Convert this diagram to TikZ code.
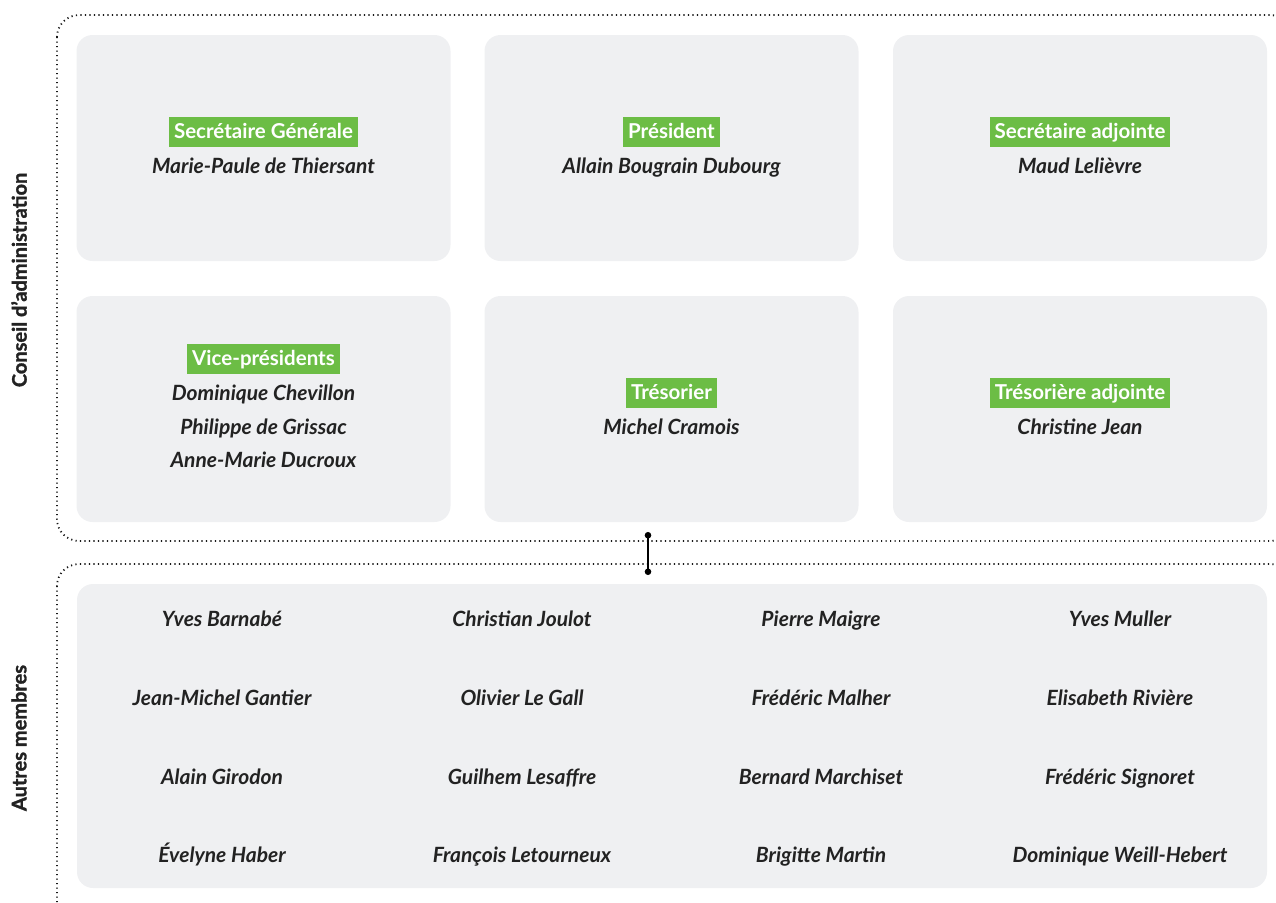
\documentclass[tikz,border=0pt]{standalone}
\usepackage{fontspec}
\setmainfont{Lato}
\newfontfamily\sidefont{Lato}[BoldFeatures={FakeBold=1.5}]
\usetikzlibrary{arrows.meta}
\definecolor{boxgray}{HTML}{EFF0F2}
\definecolor{lgreen}{HTML}{6CBD45}
\definecolor{txt}{HTML}{222222}
\begin{document}
\begin{tikzpicture}[x=1pt,y=-1pt,
 card/.style={fill=boxgray, rounded corners=16pt, draw=none, inner sep=0pt},
 frame/.style={draw=black!90, line width=1.8pt, dash pattern=on 1.2pt off 3.3pt, rounded corners=22pt},
 role/.style={fill=lgreen, text=white, font=\bfseries\fontsize{20.5}{24}\selectfont, inner xsep=5pt, inner ysep=6pt, text height=15pt, text depth=3pt},
 person/.style={text=txt, font=\bfseries\itshape\fontsize{21}{24}\selectfont, inner sep=0pt, text height=17pt, text depth=3pt},
 side/.style={text=txt, font=\sidefont\bfseries\fontsize{20}{24}\selectfont, rotate=90, inner sep=0pt},
 link/.style={draw=black, line width=1.1pt, {Circle[length=6.5pt]}-{Circle[length=6.5pt]}}]
\useasboundingbox (0,0) rectangle (1276,902);
\begin{scope}
\clip (0,0) rectangle (1276,902);
\draw[frame] (57,15) rectangle (1292,541);
\draw[frame] (57,564) rectangle (1292,930);
\end{scope}
% cards
\node[card, minimum width=374pt, minimum height=226pt] (c11) at (263.5,148) {};
\node[card, minimum width=374pt, minimum height=226pt] (c12) at (671.5,148) {};
\node[card, minimum width=374pt, minimum height=226pt] (c13) at (1080,148) {};
\node[card, minimum width=374pt, minimum height=226pt] (c21) at (263.5,409) {};
\node[card, minimum width=374pt, minimum height=226pt] (c22) at (671.5,409) {};
\node[card, minimum width=374pt, minimum height=226pt] (c23) at (1080,409) {};
\node[card, minimum width=1190pt, minimum height=304pt] (cb) at (672,736) {};
% roles
\node[role] (r11) at (263.5,132) {Secrétaire Générale};
\node[person] (p11) at (263.5,166) {Marie-Paule de Thiersant};
\node[role] (r12) at (671.5,132) {Président};
\node[person] (p12) at (671.5,166) {Allain Bougrain Dubourg};
\node[role] (r13) at (1080,132) {Secrétaire adjointe};
\node[person] (p13) at (1080,166) {Maud Lelièvre};
\node[role] (r21) at (263.5,359) {Vice-présidents};
\node[person] (p21a) at (263.5,393) {Dominique Chevillon};
\node[person] (p21b) at (263.5,427) {Philippe de Grissac};
\node[person] (p21c) at (263.5,460) {Anne-Marie Ducroux};
\node[role] (r22) at (671.5,393) {Trésorier};
\node[person] (p22) at (671.5,427) {Michel Cramois};
\node[role] (r23) at (1080,393) {Trésorière adjointe};
\node[person] (p23) at (1080,427) {Christine Jean};
% other members
\node[person] (m11) at (222,619) {Yves Barnabé};
\node[person] (m12) at (522,619) {Christian Joulot};
\node[person] (m13) at (821,619) {Pierre Maigre};
\node[person] (m14) at (1120,619) {Yves Muller};
\node[person] (m21) at (222,698) {Jean-Michel Gantier};
\node[person] (m22) at (522,698) {Olivier Le Gall};
\node[person] (m23) at (821,698) {Frédéric Malher};
\node[person] (m24) at (1120,698) {Elisabeth Rivière};
\node[person] (m31) at (222,777) {Alain Girodon};
\node[person] (m32) at (522,777) {Guilhem Lesaffre};
\node[person] (m33) at (821,777) {Bernard Marchiset};
\node[person] (m34) at (1120,777) {Frédéric Signoret};
\node[person] (m41) at (222,855) {Évelyne Haber};
\node[person] (m42) at (522,855) {François Letourneux};
\node[person] (m43) at (821,855) {Brigitte Martin};
\node[person] (m44) at (1120,855) {Dominique Weill-Hebert};
% side labels
\node[side] (s1) at (19,280) {Conseil d’administration};
\node[side] (s2) at (19,738) {Autres membres};
% connector
\coordinate (k1) at (648,532);
\coordinate (k2) at (648,575);
\draw[link] (k1) -- (k2);
\end{tikzpicture}
\end{document}
